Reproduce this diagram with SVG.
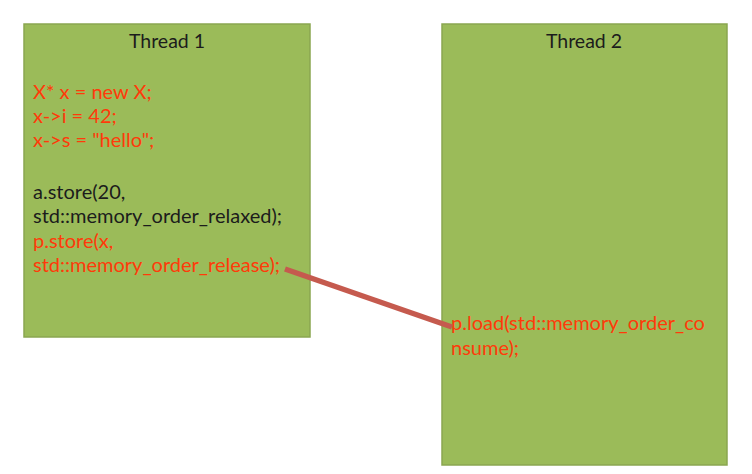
<svg xmlns="http://www.w3.org/2000/svg" width="752" height="474" viewBox="0 0 752 474">
<style>
.box{fill:#9bbb59;stroke:#8aa650;stroke-width:1.5}
text{font-family:Lato,"Open Sans",sans-serif;font-size:20px}
.t{fill:#1c1c1c;text-anchor:middle;font-size:19.5px}
.k{fill:#1c1c1c}
.r{fill:#ff3a0a}
</style>
<rect width="752" height="474" fill="#ffffff"/>
<g id="thread1">
<rect class="box" x="24" y="24" width="286" height="313"/>
<text class="t" x="167" y="48">Thread 1</text>
<text class="r" x="33" y="99">X* x = new X;</text>
<text class="r" x="33" y="123">x-&gt;i = 42;</text>
<text class="r" x="33" y="147">x-&gt;s = "hello";</text>
<text class="k" x="33" y="199">a.store(20,</text>
<text class="k" x="33" y="223">std::memory_order_relaxed);</text>
<text class="r" x="33" y="248">p.store(x,</text>
<text class="r" x="33" y="272">std::memory_order_release);</text>
</g>
<g id="thread2">
<rect class="box" x="442" y="24" width="285" height="441"/>
<text class="t" x="584" y="48">Thread 2</text>
<text class="r" x="451" y="330">p.load(std::memory_order_co</text>
<text class="r" x="451" y="355">nsume);</text>
</g>
<g id="connectors">
<line x1="285" y1="269" x2="452" y2="327" stroke="#c55a4e" stroke-width="5.5"/>
</g>
</svg>
